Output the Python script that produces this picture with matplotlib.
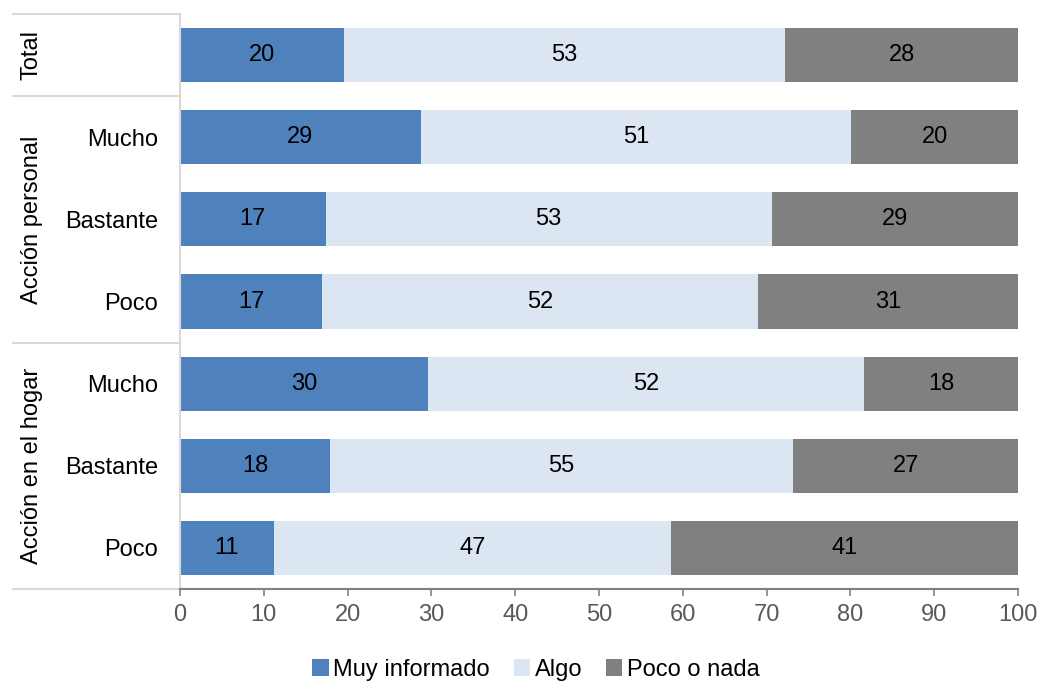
import matplotlib.pyplot as plt
from matplotlib.patches import Patch

plt.rcParams['font.family'] = ['Liberation Sans', 'DejaVu Sans']

# rows top to bottom
row_labels = ['', 'Mucho', 'Bastante', 'Poco', 'Mucho', 'Bastante', 'Poco']
groups = [('Total', 0, 0), ('Acción personal', 1, 3), ('Acción en el hogar', 4, 6)]

series_names = ['Muy informado', 'Algo', 'Poco o nada']
muy_informado = [19.6, 28.7, 17.4, 17.0, 29.6, 17.9, 11.2]
algo = [52.6, 51.4, 53.2, 52.0, 52.0, 55.3, 47.4]
poco_nada = [27.8, 19.9, 29.4, 31.0, 18.4, 26.8, 41.4]
colors = ['#4F81BD', '#DCE6F2', '#808080']

FS = 17

fig = plt.figure(figsize=(10.42, 6.81), dpi=100)
ax = fig.add_axes([180 / 1042, 92 / 681, 838 / 1042, 575 / 681])

y = list(range(len(row_labels)))
left = [0] * len(y)
for vals, col in zip([muy_informado, algo, poco_nada], colors):
    bars = ax.barh(y, vals, left=left, height=0.66, color=col)
    for b, v in zip(bars, vals):
        ax.text(b.get_x() + b.get_width() / 2, b.get_y() + b.get_height() / 2,
                f'{v:.0f}', ha='center', va='center', fontsize=FS, color='black')
    left = [l + v for l, v in zip(left, vals)]

ax.set_xlim(0, 100)
ax.set_ylim(len(y) - 0.5, -0.5)
ax.set_xticks(range(0, 101, 10))
ax.set_yticks(y)
ax.set_yticklabels(row_labels)
ax.tick_params(axis='x', length=5, width=1.2, color='#808080', labelcolor='#595959',
               labelsize=FS, pad=6)
ax.tick_params(axis='y', length=0, labelsize=FS, labelcolor='black', pad=16)

for s in ['top', 'right']:
    ax.spines[s].set_visible(False)
ax.spines['left'].set_color('#D9D9D9')
ax.spines['left'].set_linewidth(1.5)
ax.spines['bottom'].set_color('#808080')
ax.spines['bottom'].set_linewidth(1.5)

# category table lines on the left
x0 = (13 - 180) / 838
for yy in [-0.5, 0.5, 3.5, 6.5]:
    ax.plot([x0, 0], [yy, yy], color='#D9D9D9', lw=1.5, clip_on=False,
            transform=ax.get_yaxis_transform())
for name, a, b in groups:
    ax.text((32 - 180) / 838, (a + b) / 2, name, rotation=90, ha='center', va='center',
            fontsize=FS, transform=ax.get_yaxis_transform())

handles = [Patch(facecolor=c, edgecolor='none') for c in colors]
fig.legend(handles, series_names, loc='center', bbox_to_anchor=(536 / 1042, 1 - 670 / 681),
           ncol=3, frameon=False, fontsize=FS, handlelength=0.7, handleheight=0.7,
           handletextpad=0.2, columnspacing=1.0)

fig.savefig('out.png', dpi=100)
